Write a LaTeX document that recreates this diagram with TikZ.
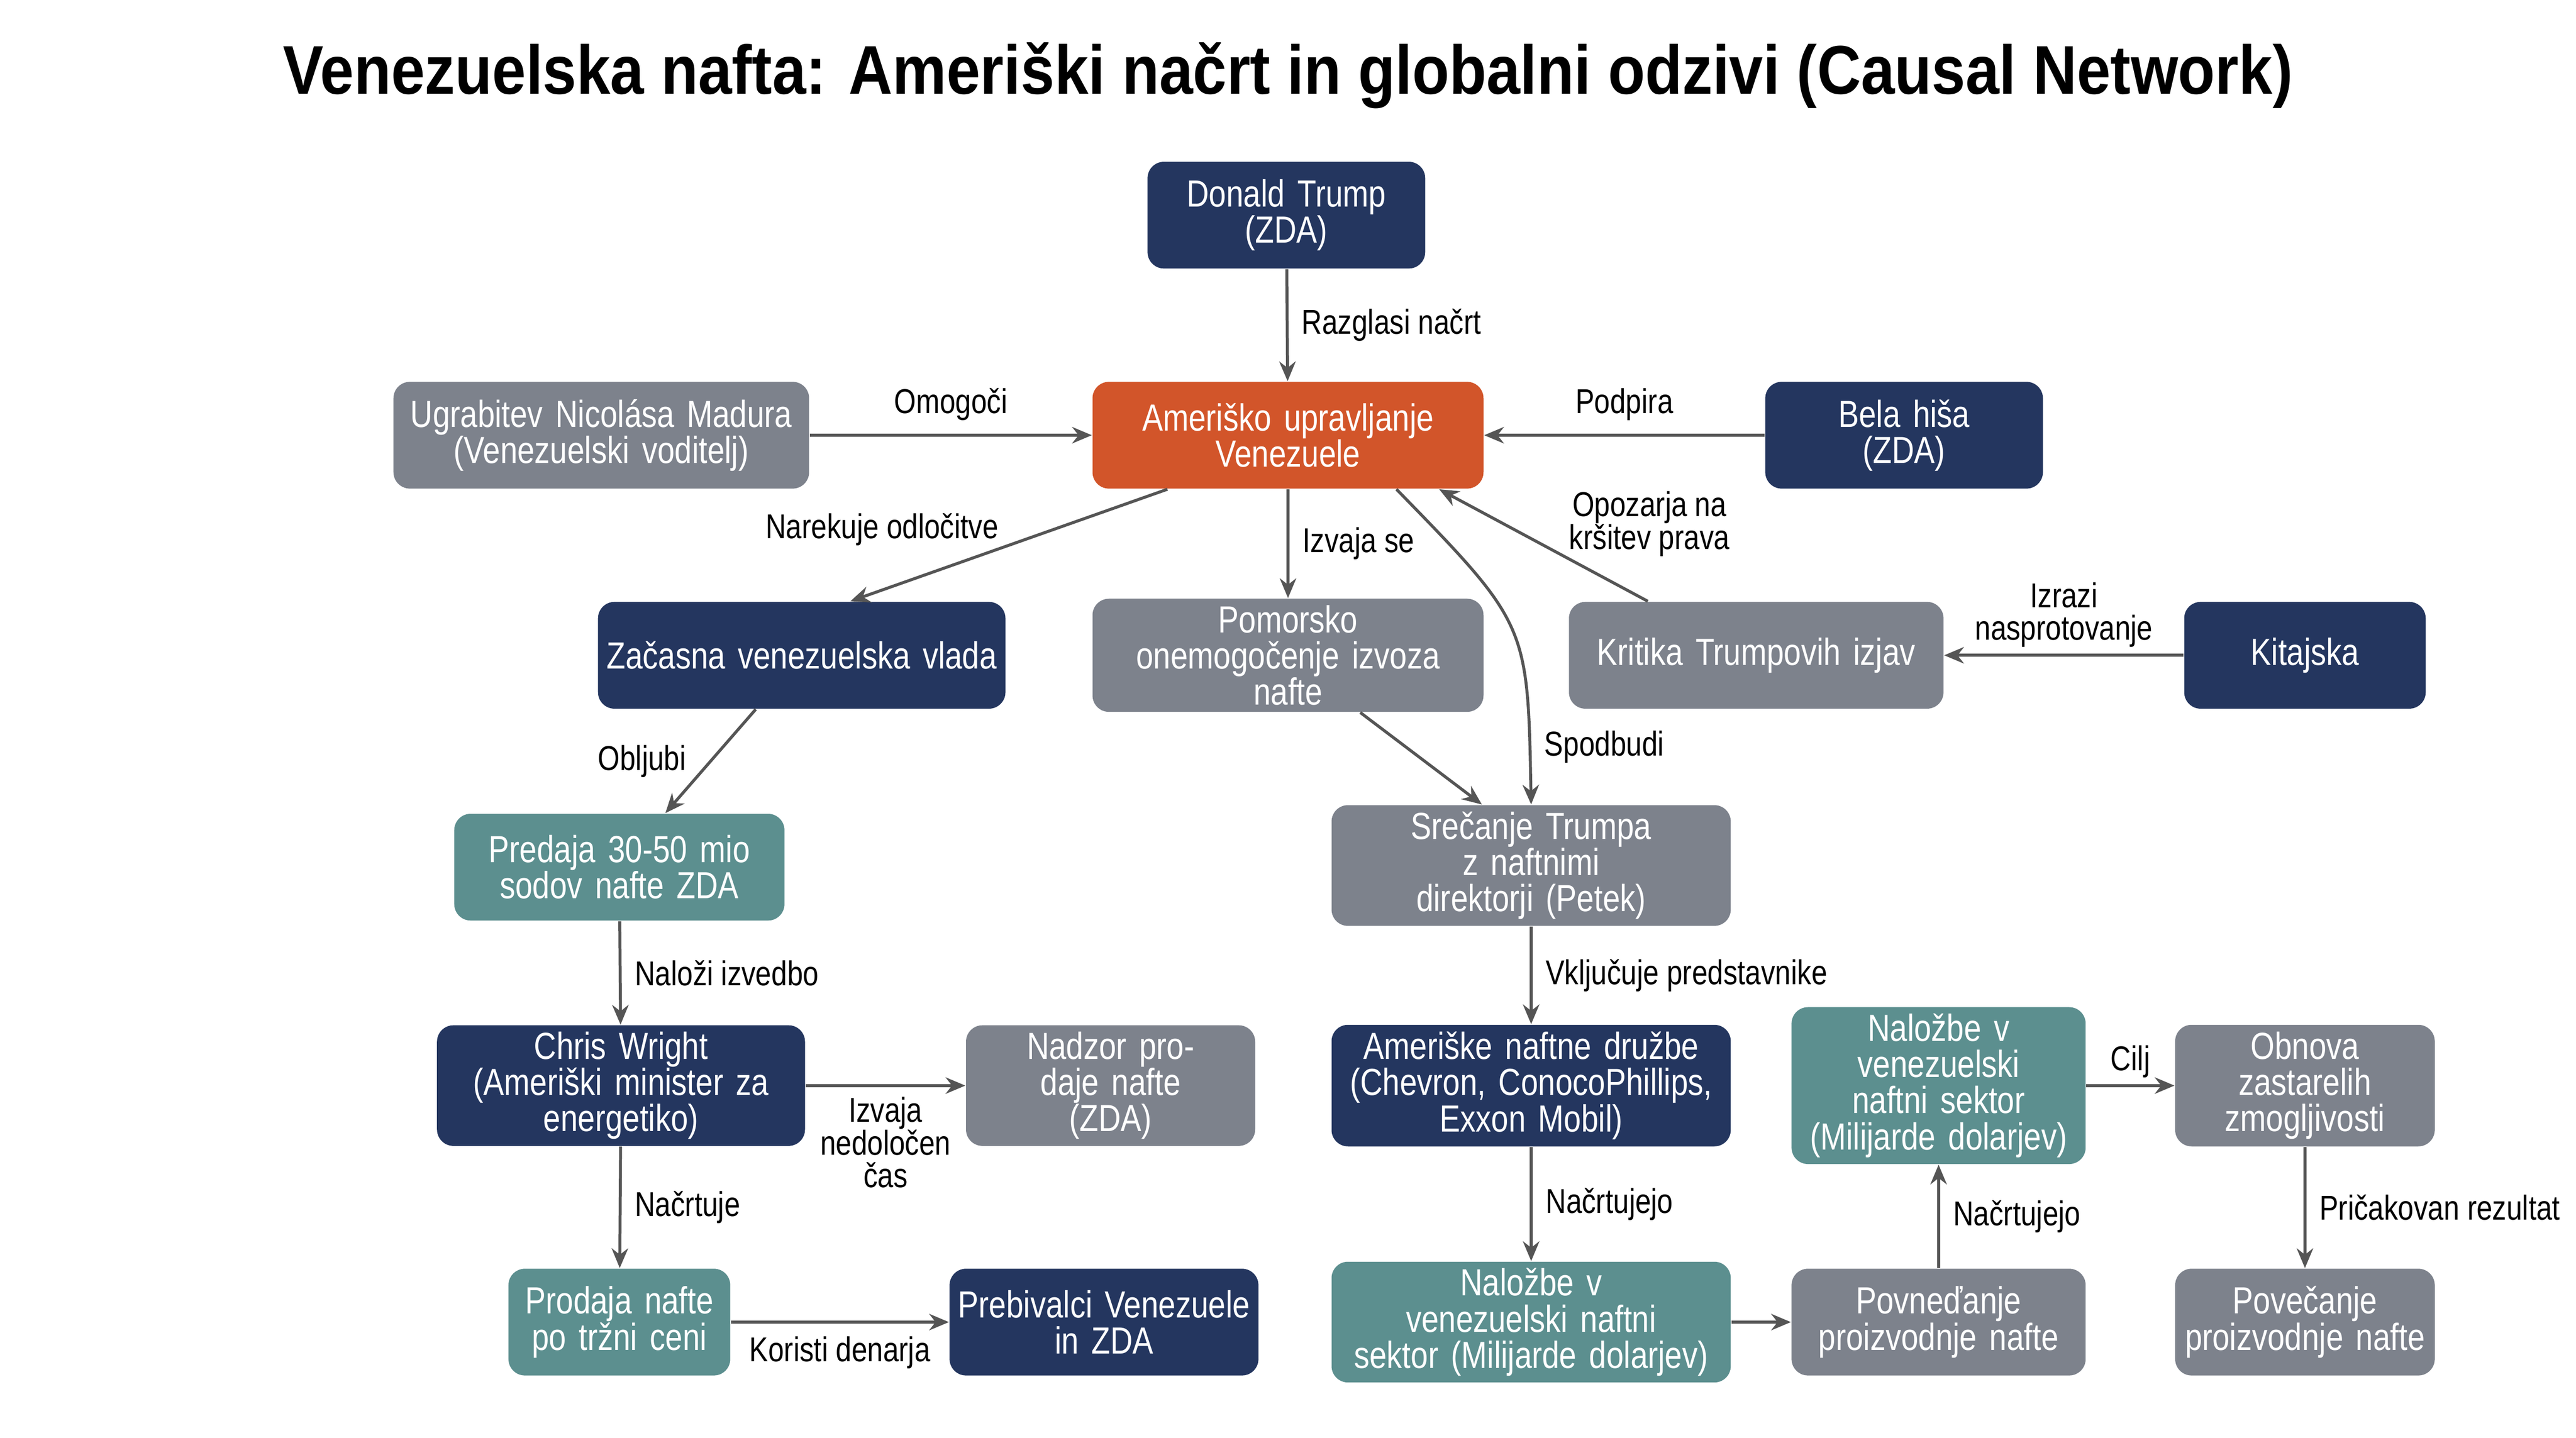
\documentclass[tikz,border=0pt]{standalone}
\usepackage{fontspec}
\setmainfont{Liberation Sans}[FakeStretch=0.82]
\newfontfamily\titlefont{Liberation Sans}[FakeStretch=0.88]
\usetikzlibrary{arrows.meta}
\definecolor{navy}{HTML}{24365F}
\definecolor{orng}{HTML}{D2552A}
\definecolor{gry}{HTML}{7D828C}
\definecolor{teal}{HTML}{5C8F8F}
\definecolor{edge}{HTML}{555555}
\tikzset{
 box/.style={rounded corners=5pt,text=white,align=center,font=\fontsize{11.5}{11}\selectfont,inner sep=2pt},
 nv/.style={box,fill=navy},
 og/.style={box,fill=orng},
 gy/.style={box,fill=gry},
 tl/.style={box,fill=teal},
 ar/.style={draw=edge,line width=0.9pt,-{Stealth[length=6pt,width=5pt]}},
 lb/.style={font=\fontsize{10.5}{10}\selectfont,text=black,align=center,inner sep=1pt},
}
\begin{document}
\begin{tikzpicture}[x=0.5pt,y=-0.5pt]
\useasboundingbox (0,0) rectangle (1568,875.4);
\fill[white] (0,0) rectangle (1568,875.4);
\node[font=\titlefont\bfseries\fontsize{21}{22}\selectfont] (title) at (784,46) {Venezuelska nafta: Ameriški načrt in globalni odzivi (Causal Network)};
\newcommand\bx[7]{\node[#1,minimum width=#4*0.5pt,minimum height=#5*0.5pt,text width=#4*0.5pt-4pt] (#6) at (#2,#3) {#7};}
\bx{nv}{783}{131}{169}{65}{trump}{Donald Trump\\(ZDA)}
\bx{og}{784}{265}{238}{65}{gov}{Ameriško upravljanje\\Venezuele}
\bx{gy}{366}{265}{253}{65}{maduro}{Ugrabitev Nicolása Madura\\(Venezuelski voditelj)}
\bx{nv}{1159}{265}{169}{65}{bela}{Bela hiša\\(ZDA)}
\bx{nv}{488}{399}{248}{65}{zac}{Začasna venezuelska vlada}
\bx{gy}{784}{399}{238}{65}{pom}{Pomorsko\\onemogočenje izvoza\\nafte}
\bx{gy}{1069}{399}{228}{65}{krit}{Kritika Trumpovih izjav}
\bx{nv}{1403}{399}{147}{65}{kit}{Kitajska}
\bx{tl}{377}{528}{201}{65}{pred}{Predaja 30-50 mio\\sodov nafte ZDA}
\bx{gy}{932}{527}{243}{65}{sre}{Srečanje Trumpa z naftnimi\\direktorji (Petek)}
\bx{nv}{378}{661}{224}{70}{chris}{Chris Wright\\(Ameriški minister za\\energetiko)}
\bx{gy}{676}{661}{176}{66}{nad}{Nadzor prodaje nafte\\(ZDA)}
\bx{nv}{932}{661}{243}{74}{druz}{Ameriške naftne družbe\\(Chevron, ConocoPhillips,\\Exxon Mobil)}
\bx{tl}{1180}{661}{179}{74}{nal1}{Naložbe v venezuelski\\naftni sektor\\(Milijarde dolarjev)}
\bx{gy}{1403}{661}{158}{74}{obn}{Obnova zastarelih\\zmogljivosti}
\bx{tl}{377}{805}{135}{65}{prod}{Prodaja nafte\\po tržni ceni}
\bx{nv}{672}{805}{188}{65}{preb}{Prebivalci Venezuele\\in ZDA}
\bx{tl}{932}{805}{243}{65}{nal2}{Naložbe v venezuelski naftni\\sektor (Milijarde dolarjev)}
\bx{gy}{1180}{805}{179}{65}{pov1}{Povneďanje\\proizvodnje nafte}
\bx{gy}{1403}{805}{158}{65}{pov2}{Povečanje\\proizvodnje nafte}
% edges
\draw[ar] (trump) -- node[lb,right=3pt] {Razglasi načrt} (gov);
\draw[ar] (maduro) -- node[lb,above=3pt] {Omogoči} (gov);
\draw[ar] (bela) -- node[lb,above=3pt] {Podpira} (gov);
\draw[ar] (gov.south west)++(46,0) -- node[lb,pos=0.9,above=12pt] {Narekuje odločitve} ([xshift=77pt]zac.north west);
\draw[ar] (gov) -- node[lb,right=3pt] {Izvaja se} (pom);
\draw[ar] ([xshift=33pt]gov.south) .. controls (930,380) .. (sre.north) node[lb,pos=0.88,right=3pt] {Spodbudi};
\draw[ar] ([xshift=-33pt]krit.north) -- ([xshift=46pt]gov.south);
\node[lb] (l1) at (1004,319) {Opozarja na\\kršitev prava};
\draw[ar] (kit) -- node[lb,above=1pt] {Izrazi\\nasprotovanje} (krit);
\draw[ar] ([xshift=-14pt]zac.south) -- node[lb,left=6pt] {Obljubi} ([xshift=14pt]pred.north);
\draw[ar] ([xshift=22pt]pom.south) -- ([xshift=-15pt]sre.north);
\draw[ar] (pred) -- node[lb,right=3pt] {Naloži izvedbo} (chris);
\draw[ar] (chris) -- node[lb,below=2pt] {Izvaja\\nedoločen\\čas} (nad);
\draw[ar] (chris) -- node[lb,right=3pt] {Načrtuje} (prod);
\draw[ar] (prod) -- node[lb,below=3pt] {Koristi denarja} (preb);
\draw[ar] (sre) -- node[lb,right=3pt] {Vključuje predstavnike} (druz);
\draw[ar] (druz) -- node[lb,right=3pt] {Načrtujejo} (nal2);
\draw[ar] (nal2) -- (pov1);
\draw[ar] (pov1) -- node[lb,right=3pt] {Načrtujejo} (nal1);
\draw[ar] (nal1) -- node[lb,above=1pt] {Cilj} (obn);
\draw[ar] (obn) -- node[lb,right=3pt] {Pričakovan rezultat} (pov2);
\end{tikzpicture}
\end{document}
